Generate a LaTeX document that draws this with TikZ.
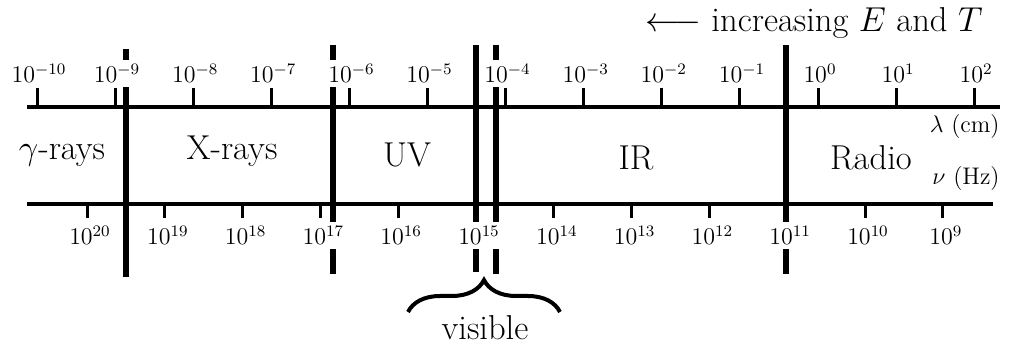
\documentclass[tikz,border=0pt]{standalone}
\usepackage{tikz}
\usetikzlibrary{decorations.pathreplacing}

\begin{document}
\begin{tikzpicture}[x=0.5pt, y=-0.5pt,
  axis/.style={line width=2.3pt},
  tickmark/.style={line width=1.5pt},
  bound/.style={line width=2.6pt},
  ticklab/.style={font=\large, fill=white, inner sep=2pt, anchor=base},
  band/.style={font=\LARGE, anchor=base, inner sep=0pt},
  unit/.style={font=\large, anchor=base east, inner sep=0pt},
]
  \useasboundingbox (0,0) rectangle (1009,347);
  % band edges
  \coordinate (gx-t) at (126,49);  \coordinate (gx-b) at (126,277);
  \coordinate (xu-t) at (333,45);  \coordinate (xu-b) at (333,274);
  \coordinate (uv-t) at (476,45);  \coordinate (uv-b) at (476,272);
  \coordinate (vi-t) at (496,45);  \coordinate (vi-b) at (496,274);
  \coordinate (ir-t) at (786,45);  \coordinate (ir-b) at (786,274);
  \draw[bound] (gx-t) -- (gx-b);
  \draw[bound] (xu-t) -- (xu-b);
  \draw[bound] (uv-t) -- (uv-b);
  \draw[bound] (vi-t) -- (vi-b);
  \draw[bound] (ir-t) -- (ir-b);
  % axes
  \coordinate (lam-l) at (27,107); \coordinate (lam-r) at (1000,107);
  \coordinate (nu-l) at (27,204);  \coordinate (nu-r) at (993,204);
  \draw[axis] (lam-l) -- (lam-r);
  \draw[axis] (nu-l) -- (nu-r);
  \foreach \k in {0,...,12}{
    \pgfmathsetmacro\pw{int(\k-10)}
    \draw[tickmark] ({37+78.1*\k},88) -- ({37+78.1*\k},107);
    \node[ticklab] (lam\k) at ({39+78.1*\k},83) {$10^{\pw}$};
  }
  \foreach \j in {0,...,11}{
    \pgfmathsetmacro\pw{int(20-\j)}
    \draw[tickmark] ({87+77.8*\j},204) -- ({87+77.8*\j},218);
    \node[ticklab] (nu\j) at ({90+77.8*\j},245) {$10^{\pw}$};
  }
  % bands
  \node[band] (gam) at (62,160) {$\gamma$-rays};
  \node[band] (xr) at (232,160) {X-rays};
  \node[band] (uv) at (407,167) {UV};
  \node[band] (ir) at (636,170) {IR};
  \node[band] (rad) at (871,170) {Radio};
  \node[unit] (lam) at (1000,133) {$\lambda$ (cm)};
  \node[unit] (nu) at (1000,185) {$\nu$ (Hz)};
  \node[font=\LARGE, anchor=base east, inner sep=0pt] (incr) at (983,32)
    {$\longleftarrow$ increasing $E$ and $T$};
  % visible
  \coordinate (br-l) at (408,312); \coordinate (br-r) at (560,312);
  \draw[line width=2pt, decorate, decoration={brace, amplitude=16pt}] (br-l) -- (br-r);
  \node[band] (vis) at (485,340) {visible};
\end{tikzpicture}
\end{document}
